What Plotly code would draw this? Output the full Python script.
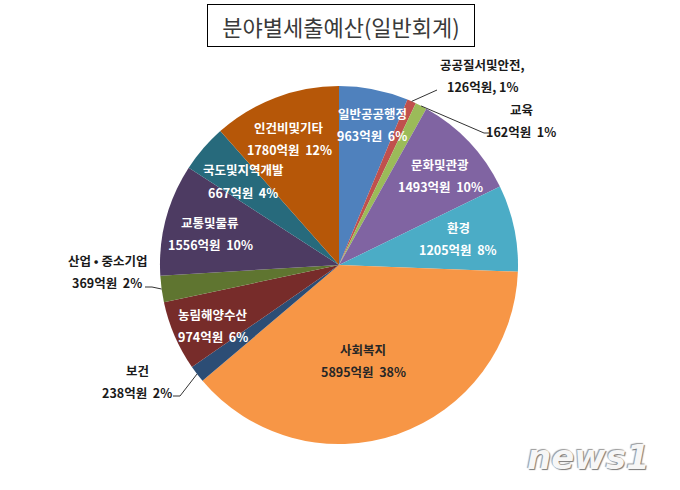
import math
import plotly.graph_objects as go

# 분야별 세출예산 (일반회계), 단위: 억원 - clockwise from 12 o'clock
names = ['일반공공행정', '공공질서및안전', '교육', '문화및관광', '환경', '사회복지',
         '보건', '농림해양수산', '산업 • 중소기업', '교통및물류', '국도및지역개발', '인건비및기타']
values = [963, 126, 162, 1493, 1205, 5895, 238, 974, 369, 1556, 667, 1780]
colors = ['#4f81bd', '#c0504d', '#9bbb59', '#8064a2', '#4bacc6', '#f79646',
          '#2c4d75', '#772c2a', '#5f7530', '#4d3b62', '#276a7c', '#b65708']

W, H = 680, 490
CX, CY, R = 339, 265, 179

# label centre (pixels) for each slice: name line above, value line below
label_pos = [(372, 124), (482, 75), (521, 120), (440, 175), (458, 238), (363, 360),
             (137, 381), (213, 325), (107, 271), (210, 233), (243, 181), (289, 138)]
outside = [1, 2, 6, 8]
# where the leader line meets the label
leader_end = {1: [(437, 90)], 2: [(484, 133), (489, 133)],
              6: [(180, 396), (173, 396)], 8: [(152, 287), (145, 287)]}
text_col = ['white'] * 12
text_col[5] = '#262626'
for i in outside:
    text_col[i] = '#1a1a1a'


def px(x, y):
    return x / W, 1 - y / H


total = sum(values)
pcts = [round(v / total * 100) for v in values]

fig = go.Figure()
fig.add_trace(go.Pie(
    labels=names,
    values=values,
    marker=dict(colors=colors, line=dict(color='white', width=0)),
    sort=False,
    direction='clockwise',
    rotation=0,
    textinfo='none',
    showlegend=False,
    domain=dict(x=[(CX - R) / W, (CX + R) / W], y=[1 - (CY + R) / H, 1 - (CY - R) / H]),
))

font = 'Noto Sans CJK KR, sans-serif'
annotations = []
for i, name in enumerate(names):
    lx, ly = label_pos[i]
    if i == 1:
        line1, line2 = name + ',', f'{values[i]}억원, {pcts[i]}%'
    else:
        line1, line2 = name, f'{values[i]}억원  {pcts[i]}%'
    for txt, yy in ((line1, ly - 11), (line2, ly + 11)):
        x, y = px(lx, yy)
        annotations.append(dict(x=x, y=y, xref='paper', yref='paper', text='<b>' + txt + '</b>',
                                xanchor='center', yanchor='middle', showarrow=False,
                                font=dict(family=font, size=12.5, color=text_col[i])))

# leader lines from the slice edge (computed from the data) to the label
shapes = []
cum = 0
for i, v in enumerate(values):
    mid = (cum + v / 2) / total * 2 * math.pi
    cum += v
    if i not in outside:
        continue
    pts = [(CX + R * math.sin(mid), CY - R * math.cos(mid))] + leader_end[i]
    for (x0, y0), (x1, y1) in zip(pts[:-1], pts[1:]):
        a, b = px(x0, y0)
        c, d = px(x1, y1)
        shapes.append(dict(type='line', xref='paper', yref='paper', x0=a, y0=b, x1=c, y1=d,
                           line=dict(color='#333333', width=1)))

tx, ty = px(341, 26)
annotations.append(dict(x=tx, y=ty, xref='paper', yref='paper', showarrow=False,
                        xanchor='center', yanchor='middle',
                        text='분야별세출예산(일반회계)', width=256, height=31,
                        font=dict(family=font, size=22, color='#3a3a3a'),
                        bordercolor='#000000', borderwidth=1, borderpad=5, bgcolor='white'))

wx, wy = px(588, 457)
annotations.append(dict(x=wx, y=wy, xref='paper', yref='paper', showarrow=False,
                        xanchor='center', yanchor='middle',
                        text='<b><i>news1</i></b>',
                        font=dict(family='DejaVu Sans, sans-serif', size=34, color='#f6f6f6',
                                  shadow='1px 1px 1px #777, -1px -1px 1px #999')))

fig.update_layout(
    width=W, height=H,
    margin=dict(l=0, r=0, t=0, b=0),
    paper_bgcolor='white',
    plot_bgcolor='white',
    annotations=annotations,
    shapes=shapes,
)

fig.write_html('out.html', config={'displayModeBar': False},
               post_script="document.body.style.margin='0';")
